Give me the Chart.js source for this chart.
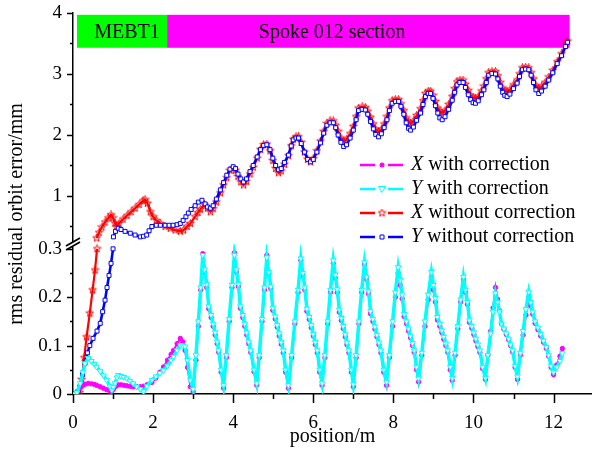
<!DOCTYPE html>
<html>
<head>
<meta charset="utf-8">
<title>rms residual orbit error</title>
<script src="https://cdn.jsdelivr.net/npm/chart.js@4.4.1/dist/chart.umd.min.js"></script>
<style>
body { margin: 0; background: #ffffff; }
canvas { display: block; }
</style>
</head>
<body>
<canvas id="myChart" width="592" height="462"></canvas>
<script>
var chart;

// with correction: both planes use the same positions (m), error in mm
var withPos = [
    0.05, 0.1, 0.18, 0.25, 0.3, 0.38, 0.46, 0.53, 0.59, 0.68, 0.76, 0.84, 0.92, 0.97,
    1.01, 1.05, 1.1, 1.13, 1.2, 1.27, 1.34, 1.42, 1.5, 1.59, 1.68, 1.76, 1.85, 1.97,
    2.07, 2.17, 2.26, 2.36, 2.45, 2.51, 2.6, 2.68, 2.74, 2.8, 2.86, 2.93, 3.0,
    3.07, 3.13, 3.19, 3.24, 3.29, 3.34, 3.39, 3.45, 3.5, 3.55, 3.6, 3.64, 3.7, 3.76,
    3.83, 3.9, 3.97, 4.03, 4.08, 4.13, 4.18, 4.24, 4.29, 4.34, 4.39, 4.44, 4.52, 4.59,
    4.65, 4.72, 4.78, 4.84, 4.89, 4.94, 4.99, 5.05, 5.1, 5.15, 5.2, 5.25, 5.31, 5.38,
    5.46, 5.54, 5.62, 5.69, 5.74, 5.79, 5.84, 5.9, 5.95, 6.0, 6.05, 6.1, 6.16, 6.22,
    6.29, 6.36, 6.43, 6.5, 6.55, 6.6, 6.65, 6.7, 6.75, 6.8, 6.84, 6.89, 6.95, 7.0,
    7.07, 7.14, 7.21, 7.28, 7.33, 7.38, 7.43, 7.49, 7.54, 7.59, 7.64, 7.69, 7.76, 7.83,
    7.9, 7.98, 8.05, 8.12, 8.17, 8.22, 8.27, 8.33, 8.38, 8.43, 8.48, 8.52, 8.58, 8.63,
    8.71, 8.79, 8.87, 8.95, 9.0, 9.05, 9.1, 9.16, 9.21, 9.26, 9.31, 9.36, 9.42, 9.47,
    9.54, 9.61, 9.68, 9.75, 9.8, 9.85, 9.9, 9.96, 10.01, 10.06, 10.11, 10.16, 10.23, 10.3,
    10.36, 10.43, 10.49, 10.55, 10.6, 10.65, 10.7, 10.76, 10.82, 10.88, 10.93, 10.98, 11.04, 11.1,
    11.17, 11.24, 11.31, 11.38, 11.43, 11.48, 11.54, 11.61, 11.68, 11.75, 11.82, 11.88, 11.94, 12.0,
    12.08, 12.16, 12.22
];
var xWithVal = [
    0, 0.004, 0.012, 0.018, 0.02, 0.022, 0.021, 0.02, 0.018, 0.015, 0.012, 0.009, 0.006, 0.006,
    0.01, 0.015, 0.018, 0.019, 0.019, 0.018, 0.017, 0.016, 0.015, 0.015, 0.015, 0.016, 0.019, 0.024,
    0.033, 0.045, 0.056, 0.07, 0.082, 0.09, 0.104, 0.115, 0.108, 0.09, 0.055, 0.015, 0.005,
    0.07, 0.14, 0.215, 0.29, 0.25, 0.22, 0.176, 0.158, 0.14, 0.122, 0.104, 0.086, 0.045, 0.012,
    0.075, 0.15, 0.22, 0.292, 0.252, 0.222, 0.177, 0.158, 0.14, 0.122, 0.104, 0.086, 0.046, 0.018,
    0.075, 0.15, 0.215, 0.287, 0.248, 0.218, 0.173, 0.155, 0.138, 0.12, 0.103, 0.085, 0.045, 0.012,
    0.075, 0.145, 0.21, 0.276, 0.245, 0.215, 0.171, 0.154, 0.137, 0.12, 0.102, 0.085, 0.045, 0.018,
    0.075, 0.145, 0.21, 0.27, 0.24, 0.21, 0.169, 0.152, 0.135, 0.118, 0.102, 0.085, 0.045, 0.015,
    0.075, 0.145, 0.21, 0.268, 0.237, 0.207, 0.166, 0.15, 0.134, 0.118, 0.102, 0.085, 0.045, 0.018,
    0.075, 0.14, 0.2, 0.25, 0.225, 0.197, 0.16, 0.145, 0.13, 0.116, 0.1, 0.086, 0.05, 0.025,
    0.08, 0.14, 0.195, 0.242, 0.215, 0.19, 0.153, 0.14, 0.127, 0.113, 0.1, 0.086, 0.05, 0.028,
    0.08, 0.135, 0.19, 0.236, 0.21, 0.185, 0.148, 0.136, 0.123, 0.11, 0.098, 0.086, 0.052, 0.03,
    0.08, 0.13, 0.178, 0.22, 0.196, 0.172, 0.145, 0.134, 0.123, 0.112, 0.1, 0.087, 0.055, 0.03,
    0.08, 0.122, 0.163, 0.2, 0.182, 0.165, 0.146, 0.133, 0.12, 0.107, 0.094, 0.078, 0.055, 0.04,
    0.06, 0.078, 0.094
];
var yWithVal = [
    0, 0.003, 0.022, 0.045, 0.063, 0.074, 0.068, 0.062, 0.056, 0.047, 0.038, 0.029, 0.016, 0.008,
    0.014, 0.022, 0.034, 0.039, 0.037, 0.035, 0.032, 0.027, 0.022, 0.015, 0.01, 0.005, 0.016, 0.029,
    0.036, 0.043, 0.049, 0.058, 0.07, 0.077, 0.09, 0.101, 0.1, 0.098, 0.07, 0.029, 0.01,
    0.08, 0.15, 0.22, 0.287, 0.257, 0.227, 0.181, 0.163, 0.145, 0.127, 0.108, 0.09, 0.05, 0.018,
    0.08, 0.155, 0.225, 0.287, 0.257, 0.227, 0.181, 0.163, 0.145, 0.127, 0.108, 0.09, 0.05, 0.022,
    0.08, 0.155, 0.22, 0.282, 0.252, 0.222, 0.178, 0.16, 0.142, 0.125, 0.107, 0.09, 0.05, 0.018,
    0.08, 0.15, 0.215, 0.28, 0.25, 0.22, 0.176, 0.159, 0.142, 0.124, 0.107, 0.09, 0.05, 0.022,
    0.08, 0.15, 0.215, 0.276, 0.246, 0.216, 0.174, 0.157, 0.14, 0.123, 0.106, 0.09, 0.05, 0.02,
    0.08, 0.15, 0.215, 0.272, 0.242, 0.212, 0.171, 0.155, 0.139, 0.122, 0.106, 0.09, 0.05, 0.025,
    0.08, 0.15, 0.21, 0.262, 0.235, 0.205, 0.165, 0.15, 0.135, 0.12, 0.105, 0.09, 0.056, 0.033,
    0.085, 0.15, 0.205, 0.252, 0.225, 0.198, 0.159, 0.145, 0.131, 0.118, 0.104, 0.09, 0.056, 0.033,
    0.085, 0.14, 0.195, 0.242, 0.215, 0.19, 0.152, 0.14, 0.127, 0.114, 0.102, 0.09, 0.056, 0.033,
    0.08, 0.125, 0.17, 0.208, 0.19, 0.17, 0.145, 0.135, 0.125, 0.114, 0.102, 0.09, 0.058, 0.036,
    0.085, 0.13, 0.175, 0.211, 0.19, 0.17, 0.15, 0.137, 0.124, 0.11, 0.097, 0.08, 0.058, 0.045,
    0.055, 0.068, 0.084
];

// without correction, the first rise drawn under the axis break
var xNoLowPos = [0.1, 0.17, 0.22, 0.28, 0.34, 0.42, 0.49, 0.55, 0.6];
var xNoLowVal = [0, 0.003, 0.03, 0.075, 0.118, 0.167, 0.215, 0.256, 0.3];
var yNoLowPos = [0.05, 0.12, 0.17, 0.24, 0.3, 0.36, 0.42, 0.5, 0.6, 0.68, 0.74, 0.8, 0.85, 0.9, 0.95, 1.0];
var yNoLowVal = [0, 0.005, 0.015, 0.04, 0.064, 0.085, 0.1, 0.115, 0.13, 0.146, 0.17, 0.194, 0.22, 0.245, 0.27, 0.3];

// without correction above the break, MEBT1 part
var xNoHeadPos = [
    0.59, 0.65, 0.72, 0.8, 0.88, 0.95, 1.0, 1.05, 1.09, 1.15,
    1.25, 1.35, 1.45, 1.55, 1.65, 1.75, 1.8, 1.86, 1.93, 2.0,
    2.08, 2.18, 2.3, 2.43, 2.55, 2.68, 2.76, 2.85, 2.93, 3.05,
    3.12, 3.18, 3.28, 3.36, 3.43, 3.5
];
var xNoHeadVal = [
    0.31, 0.4, 0.49, 0.57, 0.64, 0.69, 0.64, 0.55, 0.5, 0.55,
    0.62, 0.68, 0.74, 0.8, 0.86, 0.92, 0.94, 0.88, 0.74, 0.66,
    0.6, 0.55, 0.5, 0.47, 0.44, 0.42, 0.44, 0.5, 0.55, 0.66,
    0.73, 0.78, 0.86, 0.8, 0.74, 0.79
];
var yNoHeadPos = [
    1.01, 1.06, 1.13, 1.2, 1.3, 1.43, 1.55, 1.68, 1.76, 1.84,
    1.9, 1.97, 2.08, 2.18, 2.3, 2.4, 2.5, 2.6, 2.68, 2.75,
    2.82, 2.88, 2.95, 3.05, 3.13, 3.22, 3.3, 3.36, 3.43, 3.5
];
var yNoHeadVal = [
    0.33, 0.42, 0.47, 0.45, 0.42, 0.39, 0.36, 0.33, 0.34, 0.36,
    0.43, 0.5, 0.52, 0.52, 0.52, 0.52, 0.52, 0.53, 0.55, 0.6,
    0.66, 0.72, 0.78, 0.84, 0.9, 0.93, 0.87, 0.82, 0.8, 0.84
];

// without correction along the spoke section, same positions for X and Y
var noTailPos = [
    3.58, 3.68, 3.76, 3.84, 3.92, 4.0, 4.06, 4.12, 4.19, 4.26,
    4.33, 4.42, 4.5, 4.6, 4.68, 4.76, 4.84, 4.92, 4.99, 5.06, 5.13,
    5.2, 5.28, 5.38, 5.45, 5.5, 5.57, 5.63, 5.7, 5.78, 5.86, 5.93,
    6.0, 6.09, 6.18, 6.26, 6.34, 6.42, 6.5, 6.56, 6.62, 6.69, 6.76,
    6.83, 6.92, 7.0, 7.07, 7.13, 7.22, 7.3, 7.36, 7.43, 7.5, 7.56, 7.63,
    7.7, 7.77, 7.84, 7.9, 7.97, 8.05, 8.13, 8.19, 8.26, 8.32, 8.38, 8.43,
    8.5, 8.58, 8.68, 8.74, 8.8, 8.87, 8.93, 8.99, 9.05, 9.11, 9.16, 9.22,
    9.29, 9.38, 9.47, 9.53, 9.59, 9.66, 9.74, 9.8, 9.87, 9.93, 9.99, 10.05,
    10.12, 10.2, 10.26, 10.32, 10.38, 10.46, 10.55, 10.61, 10.67, 10.73, 10.78, 10.84,
    10.91, 11.0, 11.09, 11.15, 11.22, 11.3, 11.38, 11.44, 11.5, 11.56, 11.63,
    11.7, 11.79, 11.88, 11.98, 12.09, 12.2, 12.3, 12.35
];
var xNoTailVal = [
    0.9, 1.05, 1.18, 1.3, 1.42, 1.45, 1.42, 1.32, 1.23, 1.18,
    1.24, 1.36, 1.47, 1.62, 1.76, 1.84, 1.85, 1.74, 1.58, 1.45, 1.38,
    1.41, 1.52, 1.66, 1.82, 1.93, 1.97, 1.97, 1.88, 1.72, 1.6, 1.56,
    1.61, 1.74, 1.9, 2.06, 2.19, 2.23, 2.23, 2.16, 2.06, 1.95, 1.9,
    1.93, 2.02, 2.14, 2.3, 2.44, 2.46, 2.45, 2.39, 2.29, 2.18, 2.09, 2.05,
    2.09, 2.18, 2.3, 2.44, 2.56, 2.58, 2.58, 2.51, 2.4, 2.28, 2.21, 2.19,
    2.23, 2.32, 2.43, 2.56, 2.68, 2.72, 2.72, 2.65, 2.55, 2.44, 2.38, 2.36,
    2.4, 2.5, 2.63, 2.76, 2.87, 2.9, 2.9, 2.83, 2.73, 2.65, 2.61, 2.6,
    2.63, 2.72, 2.8, 2.92, 3.02, 3.04, 3.04, 2.97, 2.86, 2.77, 2.72, 2.71,
    2.74, 2.82, 2.9, 3.0, 3.1, 3.11, 3.1, 3.02, 2.92, 2.81, 2.76,
    2.79, 2.86, 2.95, 3.06, 3.2, 3.33, 3.48, 3.54
];
var yNoTailVal = [
    0.95, 1.1, 1.22, 1.34, 1.44, 1.48, 1.45, 1.36, 1.28, 1.23,
    1.28, 1.4, 1.5, 1.64, 1.76, 1.83, 1.84, 1.76, 1.62, 1.5, 1.43,
    1.45, 1.55, 1.67, 1.82, 1.92, 1.95, 1.95, 1.86, 1.72, 1.6, 1.56,
    1.6, 1.72, 1.87, 2.03, 2.16, 2.2, 2.2, 2.12, 2.0, 1.88, 1.81,
    1.84, 1.95, 2.08, 2.25, 2.4, 2.42, 2.41, 2.34, 2.22, 2.1, 2.01, 1.97,
    2.02, 2.12, 2.25, 2.4, 2.52, 2.55, 2.55, 2.47, 2.34, 2.2, 2.11, 2.08,
    2.13, 2.24, 2.36, 2.5, 2.63, 2.68, 2.68, 2.6, 2.48, 2.36, 2.28, 2.25,
    2.3, 2.42, 2.57, 2.7, 2.82, 2.86, 2.86, 2.78, 2.66, 2.58, 2.53, 2.52,
    2.56, 2.66, 2.74, 2.86, 2.98, 3.01, 3.0, 2.92, 2.8, 2.7, 2.65, 2.63,
    2.67, 2.76, 2.85, 2.96, 3.07, 3.08, 3.07, 2.98, 2.86, 2.74, 2.68,
    2.72, 2.8, 2.9, 3.02, 3.17, 3.3, 3.45, 3.52
];

var xTicks = [0, 2, 4, 6, 8, 10, 12];
var xMinor = [1, 3, 5, 7, 9, 11];
var lowTicks = [0, 0.1, 0.2, 0.3];
var lowMinor = [0.05, 0.15, 0.25];
var highTicks = [1, 2, 3, 4];
var highMinor = [0.5, 1.5, 2.5, 3.5];

// accelerator sections along the top of the plot (m)
var sectionNames = ['MEBT1', 'Spoke 012 section'];
var sectionFrom = [0.1, 2.35];
var sectionTo = [2.35, 12.4];
var sectionLabelAt = [1.35, 6.47];

var legendPlanes = ['X', 'Y', 'X', 'Y'];
var legendNames = ['with correction', 'with correction', 'without correction', 'without correction'];

var serif = "'Liberation Serif', 'Times New Roman', serif";

function toPoints(pos, val) {
    return pos.map(function (p, i) {
        return { x: p, y: val[i] };
    });
}

// small five point star used as marker for X without correction
function starMarker(color) {
    var c = document.createElement('canvas');
    c.width = 9;
    c.height = 9;
    var g = c.getContext('2d');
    g.strokeStyle = color;
    g.lineWidth = 1;
    g.beginPath();
    for (var i = 0; i < 10; i++) {
        var r = i % 2 ? 1.7 : 4;
        var a = -Math.PI / 2 + i * Math.PI / 5;
        var px = 4.5 + r * Math.cos(a);
        var py = 4.5 + r * Math.sin(a);
        if (i === 0) g.moveTo(px, py); else g.lineTo(px, py);
    }
    g.closePath();
    g.stroke();
    return c;
}

var star = starMarker('#ff0000');

var styles = {
    xWith: { color: '#ff00ff', lineWidth: 2, pointStyle: 'circle', radius: 2.2, fill: '#ff00ff', rotation: 0 },
    yWith: { color: '#00ffff', lineWidth: 3.5, pointStyle: 'triangle', radius: 3.2, fill: '#ffffff', rotation: 180 },
    xNo: { color: '#ff0000', lineWidth: 2.2, pointStyle: star, radius: 3, fill: '#ff0000', rotation: 0 },
    yNo: { color: '#0000ff', lineWidth: 2.6, pointStyle: 'rect', radius: 2.8, fill: '#ffffff', rotation: 0 }
};

function dataset(points, st, axis, order) {
    return {
        data: points,
        yAxisID: axis,
        order: order,
        borderColor: st.color,
        borderWidth: st.lineWidth,
        pointStyle: st.pointStyle,
        pointRadius: st.radius,
        pointRotation: st.rotation,
        pointBorderColor: st.color,
        pointBackgroundColor: st.fill,
        pointBorderWidth: 1,
        fill: false,
        tension: 0
    };
}

function drawMarker(ctx, st, x, y) {
    ctx.save();
    ctx.strokeStyle = st.color;
    ctx.fillStyle = st.fill;
    ctx.lineWidth = 1;
    ctx.beginPath();
    if (st.pointStyle === 'circle') {
        ctx.arc(x, y, 2.5, 0, Math.PI * 2);
        ctx.fill();
    } else if (st.pointStyle === 'triangle') {
        ctx.moveTo(x - 3.5, y - 2.5);
        ctx.lineTo(x + 3.5, y - 2.5);
        ctx.lineTo(x, y + 3.5);
        ctx.closePath();
        ctx.fill();
        ctx.stroke();
    } else if (st.pointStyle === 'rect') {
        ctx.rect(x - 2, y - 2, 4, 4);
        ctx.fill();
        ctx.stroke();
    } else {
        ctx.drawImage(st.pointStyle, x - 4.5, y - 4.5);
    }
    ctx.restore();
}

// keep the plot area where the axes are, without room for half labels
function noLabelPadding(s) {
    s.paddingLeft = 0;
    s.paddingRight = 0;
    s.paddingTop = 0;
    s.paddingBottom = 0;
}

var extras = {
    id: 'extras',
    beforeDatasetsDraw: function (c) {
        var ctx = c.ctx;
        var xs = c.scales.x;
        var ys = c.scales.yHigh;
        var colors = ['#00ff00', '#ff00ff'];
        ctx.save();
        for (var i = 0; i < sectionNames.length; i++) {
            var x0 = xs.getPixelForValue(sectionFrom[i]);
            var x1 = xs.getPixelForValue(sectionTo[i]);
            var y0 = ys.getPixelForValue(3.97);
            var y1 = ys.getPixelForValue(3.43);
            ctx.fillStyle = colors[i];
            ctx.fillRect(x0, y0, x1 - x0, y1 - y0);
            ctx.fillStyle = '#000';
            ctx.font = '20px ' + serif;
            ctx.textAlign = 'center';
            ctx.textBaseline = 'middle';
            ctx.fillText(sectionNames[i], xs.getPixelForValue(sectionLabelAt[i]), (y0 + y1) / 2 + 1);
        }
        ctx.restore();
    },
    afterDraw: function (c) {
        var ctx = c.ctx;
        var xs = c.scales.x;
        var lo = c.scales.yLow;
        var hi = c.scales.yHigh;
        ctx.save();
        ctx.strokeStyle = '#000';
        ctx.lineWidth = 1.5;
        ctx.beginPath();
        // outward ticks, long for labelled values
        function xt(v, len) {
            var p = Math.round(xs.getPixelForValue(v)) + 0.5;
            ctx.moveTo(p, xs.top);
            ctx.lineTo(p, xs.top + len);
        }
        function yt(s, v, len) {
            var p = Math.round(s.getPixelForValue(v)) + 0.5;
            ctx.moveTo(s.right, p);
            ctx.lineTo(s.right - len, p);
        }
        xTicks.forEach(function (v) { xt(v, 9); });
        xMinor.forEach(function (v) { xt(v, 5); });
        lowTicks.forEach(function (v) { yt(lo, v, 6); });
        lowMinor.forEach(function (v) { yt(lo, v, 3); });
        highTicks.forEach(function (v) { yt(hi, v, 6); });
        highMinor.forEach(function (v) { yt(hi, v, 3); });
        ctx.stroke();

        // axis break between the two y ranges
        var bx = lo.right;
        var by = lo.top;
        ctx.fillStyle = '#fff';
        ctx.fillRect(bx - 3, by - 2, 6, 5);
        ctx.lineWidth = 1.8;
        ctx.beginPath();
        ctx.moveTo(bx - 7, by + 6);
        ctx.lineTo(bx + 7, by - 2);
        ctx.moveTo(bx - 7, by + 2);
        ctx.lineTo(bx + 7, by - 6);
        ctx.stroke();

        // y axis title over both ranges
        ctx.fillStyle = '#000';
        ctx.font = '20px ' + serif;
        ctx.translate(17, 214);
        ctx.rotate(-Math.PI / 2);
        ctx.textAlign = 'center';
        ctx.textBaseline = 'middle';
        ctx.fillText('rms residual orbit error/mm', 0, 0);
        ctx.restore();

        // legend
        var legendStyles = [styles.xWith, styles.yWith, styles.xNo, styles.yNo];
        ctx.save();
        for (var i = 0; i < 4; i++) {
            var st = legendStyles[i];
            var ly = 165 + i * 24;
            ctx.strokeStyle = st.color;
            ctx.lineWidth = 2.5;
            ctx.beginPath();
            ctx.moveTo(360, ly);
            ctx.lineTo(375, ly);
            ctx.moveTo(388, ly);
            ctx.lineTo(403, ly);
            ctx.stroke();
            drawMarker(ctx, st, 382, ly);
            ctx.fillStyle = '#000';
            ctx.textBaseline = 'middle';
            ctx.textAlign = 'left';
            ctx.font = 'italic 20px ' + serif;
            ctx.fillText(legendPlanes[i], 411, ly);
            var w = ctx.measureText(legendPlanes[i]).width;
            ctx.font = '20px ' + serif;
            ctx.fillText(' ' + legendNames[i], 411 + w, ly);
        }
        ctx.restore();
    }
};

function init() {
    const ctx = document.getElementById('myChart');
    chart = new Chart(ctx, {
        type: 'line',
        data: {
            datasets: [
                dataset(toPoints(withPos, yWithVal), styles.yWith, 'yLow', 0),
                dataset(toPoints(withPos, xWithVal), styles.xWith, 'yLow', 1),
                dataset(toPoints(yNoLowPos, yNoLowVal), styles.yNo, 'yLow', 2),
                dataset(toPoints(yNoHeadPos.concat(noTailPos), yNoHeadVal.concat(yNoTailVal)), styles.yNo, 'yHigh', 2),
                dataset(toPoints(xNoLowPos, xNoLowVal), styles.xNo, 'yLow', 3),
                dataset(toPoints(xNoHeadPos.concat(noTailPos), xNoHeadVal.concat(xNoTailVal)), styles.xNo, 'yHigh', 3)
            ]
        },
        options: {
            responsive: false,
            animation: false,
            devicePixelRatio: 1,
            layout: { autoPadding: false, padding: { top: 13, left: 0, right: 0, bottom: 0 } },
            plugins: {
                legend: { display: false },
                tooltip: { enabled: false }
            },
            scales: {
                x: {
                    type: 'linear',
                    position: 'bottom',
                    min: 0,
                    max: 12.96,
                    grid: { display: false, drawTicks: false },
                    border: { color: '#000', width: 1.5 },
                    ticks: { color: '#000', font: { family: serif, size: 19 }, padding: 18, maxRotation: 0 },
                    afterBuildTicks: function (s) { s.ticks = xTicks.map(function (v) { return { value: v }; }); },
                    afterFit: function (s) { s.height = 68; noLabelPadding(s); },
                    title: { display: true, text: 'position/m', color: '#000', font: { family: serif, size: 20 }, padding: { top: 0, bottom: 13 } }
                },
                yLow: {
                    type: 'linear',
                    position: 'left',
                    stack: 'err',
                    stackWeight: 150,
                    min: 0,
                    max: 0.31,
                    grid: { display: false, drawTicks: false },
                    border: { color: '#000', width: 1.5 },
                    ticks: { color: '#000', font: { family: serif, size: 19 }, padding: 11, callback: function (v) { return String(v); } },
                    afterBuildTicks: function (s) { s.ticks = lowTicks.map(function (v) { return { value: v }; }); },
                    afterFit: function (s) { s.width = 73; noLabelPadding(s); }
                },
                yHigh: {
                    type: 'linear',
                    position: 'left',
                    stack: 'err',
                    stackWeight: 231,
                    min: 0.213,
                    max: 4,
                    grid: { display: false, drawTicks: false },
                    border: { color: '#000', width: 1.5 },
                    ticks: { color: '#000', font: { family: serif, size: 19 }, padding: 11, callback: function (v) { return String(v); } },
                    afterBuildTicks: function (s) { s.ticks = highTicks.map(function (v) { return { value: v }; }); },
                    afterFit: function (s) { s.width = 73; noLabelPadding(s); }
                }
            }
        },
        plugins: [extras]
    });
}

init();
</script>
</body>
</html>
